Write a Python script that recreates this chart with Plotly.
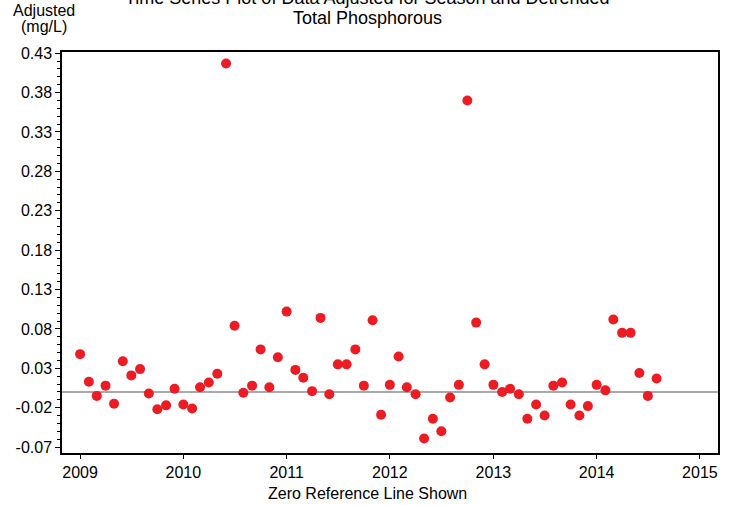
import plotly.express as px
import pandas as pd

#Monthly sampling dates
start_month = "2009-01-01"
n_months = 68

#Season-adjusted and detrended total phosphorous values, mg/L (by year)
tp_2009 = [0.048, 0.013, -0.005, 0.008, -0.015, 0.039, 0.021, 0.029, -0.002, -0.022, -0.017, 0.004]
tp_2010 = [-0.016, -0.021, 0.006, 0.012, 0.023, 0.417, 0.084, -0.001, 0.008, 0.054, 0.006, 0.044]
tp_2011 = [0.102, 0.028, 0.018, 0.001, 0.094, -0.003, 0.035, 0.035, 0.054, 0.008, 0.091, -0.029]
tp_2012 = [0.009, 0.045, 0.006, -0.003, -0.059, -0.034, -0.050, -0.007, 0.009, 0.370, 0.088, 0.035]
tp_2013 = [0.009, 0.000, 0.004, -0.003, -0.034, -0.016, -0.030, 0.008, 0.012, -0.016, -0.030, -0.018]
tp_2014 = [0.009, 0.002, 0.092, 0.075, 0.075, 0.024, -0.005, 0.017]

#Y tick labels
y_ticks = [0.43, 0.38, 0.33, 0.28, 0.23, 0.18, 0.13, 0.08, 0.03, -0.02, -0.07]
y_labels = ["0.43", "0.38", "0.33", "0.28", "0.23", "0.18", "0.13", "0.08", "0.03", "-0.02", "-0.07"]

df = pd.DataFrame({
    "date": pd.date_range(start_month, periods=n_months, freq="MS"),
    "value": tp_2009 + tp_2010 + tp_2011 + tp_2012 + tp_2013 + tp_2014,
})

FONT = "Arial, Liberation Sans, sans-serif"

#Scatter of the adjusted values
fig = px.scatter(df, x="date", y="value")
fig.update_traces(marker=dict(color="#EC1C24", size=10, line=dict(width=0)))

#Zero reference line
fig.add_hline(y=0, line_color="#8c8c8c", line_width=1.5, layer="below")

fig.update_layout(
    width=735, height=505,
    margin=dict(l=62, r=17, t=52, b=52, autoexpand=False),
    plot_bgcolor="white",
    paper_bgcolor="white",
    font=dict(family=FONT, size=16, color="black"),
    showlegend=False,
)

fig.update_xaxes(
    type="date",
    range=["2008-10-29", "2015-03-06"],
    tick0="2009-01-01", dtick="M12", tickformat="%Y",
    ticks="outside", ticklen=4, tickwidth=1, tickcolor="black",
    showgrid=False, zeroline=False,
    showline=True, linecolor="black", linewidth=1.5, mirror=True,
    title=None,
    tickfont=dict(size=16),
)

fig.update_yaxes(
    range=[-0.0775, 0.4315],
    tickmode="array", tickvals=y_ticks, ticktext=y_labels,
    ticks="outside", ticklen=5, tickwidth=1, tickcolor="black",
    minor=dict(tickmode="linear", tick0=-0.07, dtick=0.01, ticks="outside",
               ticklen=3, tickcolor="black", showgrid=False),
    showgrid=False, zeroline=False,
    showline=True, linecolor="black", linewidth=1.5, mirror=True,
    title=None,
    tickfont=dict(size=16),
)

#Text lines placed one by one (tight line spacing as in the source)
texts = [
    ("Time Series Plot of Data Adjusted for Season and Detrended", 0.4657, 1.134, 18),
    ("Total Phosphorous", 0.4657, 1.084, 18),
    ("Adjusted", -0.0274, 1.104, 16),
    ("(mg/L)", -0.0274, 1.064, 16),
    ("Zero Reference Line Shown", 0.4657, -0.1017, 16),
]
for txt, x, y, size in texts:
    fig.add_annotation(
        x=x, y=y, xref="paper", yref="paper",
        xanchor="center", yanchor="middle",
        text=txt, showarrow=False, font=dict(size=size),
    )

#no page margin so the figure fills the window exactly
fig.write_html("out.html", config={"displayModeBar": False},
               post_script="document.body.style.margin='0';")
